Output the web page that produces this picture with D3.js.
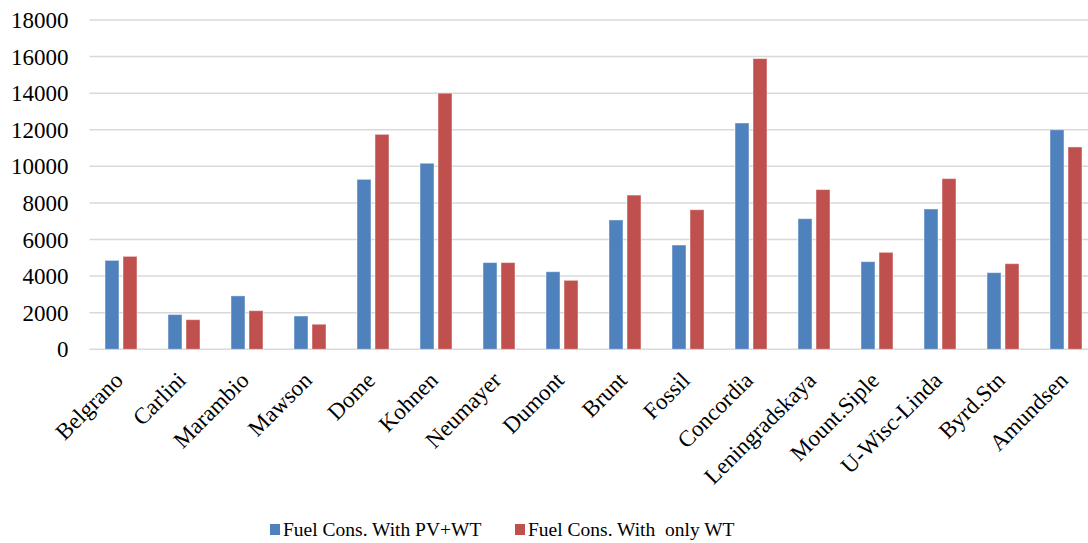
<!DOCTYPE html>
<html>
<head>
<meta charset="utf-8">
<script src="https://cdn.jsdelivr.net/npm/d3@7"></script>
<style>
  html, body { margin: 0; padding: 0; background: #fff; }
  svg { display: block; }
  svg text { font-family: "Liberation Serif", "Times New Roman", serif; }
</style>
</head>
<body>
<svg id="chart" width="1088" height="543"></svg>
<script>
// Antarctic stations and fuel consumption for the two hybrid configurations
const stations = ["Belgrano", "Carlini", "Marambio", "Mawson", "Dome", "Kohnen", "Neumayer",
  "Dumont", "Brunt", "Fossil", "Concordia", "Leningradskaya", "Mount.Siple", "U-Wisc-Linda",
  "Byrd.Stn", "Amundsen"];
const fuelPvWt = [4860, 1900, 2920, 1820, 9290, 10170, 4740, 4240, 7070, 5700, 12370, 7140,
  4790, 7670, 4190, 12000];
const fuelOnlyWt = [5080, 1620, 2110, 1370, 11750, 14000, 4740, 3770, 8430, 7630, 15890, 8730,
  5300, 9330, 4680, 11060];
const seriesNames = ["Fuel Cons. With PV+WT", "Fuel Cons. With  only WT"];
const seriesColors = ["#4F81BD", "#C0504D"];
const yTicks = [0, 2000, 4000, 6000, 8000, 10000, 12000, 14000, 16000, 18000];

const serif = "'Liberation Serif', 'Times New Roman', serif";
const svg = d3.select("#chart");
const plotLeft = 89.5, bandStep = 63;
const plotTop = 20, plotBottom = 349.3;

const x0 = d3.scaleBand()
  .domain(stations)
  .range([plotLeft, plotLeft + bandStep * stations.length]);
const x1 = d3.scaleBand()
  .domain([0, 1])
  .range([15.5, 47.5])
  .paddingInner(0.2222);
const y = d3.scaleLinear().domain([0, 18000]).range([plotBottom, plotTop]);

// horizontal gridlines
svg.append("g")
  .selectAll("line")
  .data(yTicks)
  .join("line")
  .attr("x1", plotLeft)
  .attr("x2", 1088)
  .attr("y1", d => y(d))
  .attr("y2", d => y(d))
  .attr("stroke", "#D9D9D9")
  .attr("stroke-width", 1.5);

// y-axis labels
const yAxis = d3.axisLeft(y).tickValues(yTicks).tickSize(0).tickPadding(0).tickFormat(d3.format("d"));
svg.append("g")
  .attr("transform", `translate(${plotLeft - 21},0)`)
  .call(yAxis)
  .call(g => g.select(".domain").remove())
  .attr("font-family", serif)
  .attr("font-size", 23)
  .selectAll("text")
  .attr("fill", "#000")
  .attr("dy", "0.33em");

// grouped bars
const rows = stations.map((s, i) => ({ station: s, values: [fuelPvWt[i], fuelOnlyWt[i]] }));
const groups = svg.append("g")
  .selectAll("g")
  .data(rows)
  .join("g")
  .attr("transform", d => `translate(${x0(d.station)},0)`);

groups.selectAll("rect")
  .data(d => d.values.map((v, k) => ({ v, k })))
  .join("rect")
  .attr("x", d => x1(d.k))
  .attr("width", x1.bandwidth())
  .attr("y", d => y(d.v))
  .attr("height", d => y(0) - y(d.v))
  .attr("fill", d => seriesColors[d.k])
  .attr("stroke", "rgba(255,255,255,0.45)")
  .attr("stroke-width", 1);

// rotated category labels
svg.append("g")
  .attr("font-family", serif)
  .selectAll("text")
  .data(stations)
  .join("text")
  .attr("transform", d => `translate(${x0(d) + x0.bandwidth() / 2 - 8},${plotBottom + 21}) rotate(-45)`)
  .attr("text-anchor", "end")
  .attr("dy", "0.7em")
  .attr("font-size", 23)
  .attr("fill", "#000")
  .text(d => d);

// legend
const legendItems = [{ x: 270, i: 0 }, { x: 515, i: 1 }];
const legend = svg.append("g").attr("font-family", serif);
legend.selectAll("rect")
  .data(legendItems)
  .join("rect")
  .attr("x", d => d.x)
  .attr("y", 524)
  .attr("width", 10)
  .attr("height", 11)
  .attr("fill", d => seriesColors[d.i]);
legend.selectAll("text")
  .data(legendItems)
  .join("text")
  .attr("x", d => d.x + 13)
  .attr("y", 536)
  .attr("font-size", 19.5)
  .attr("fill", "#000")
  .style("white-space", "pre")
  .text(d => seriesNames[d.i]);
</script>
</body>
</html>
